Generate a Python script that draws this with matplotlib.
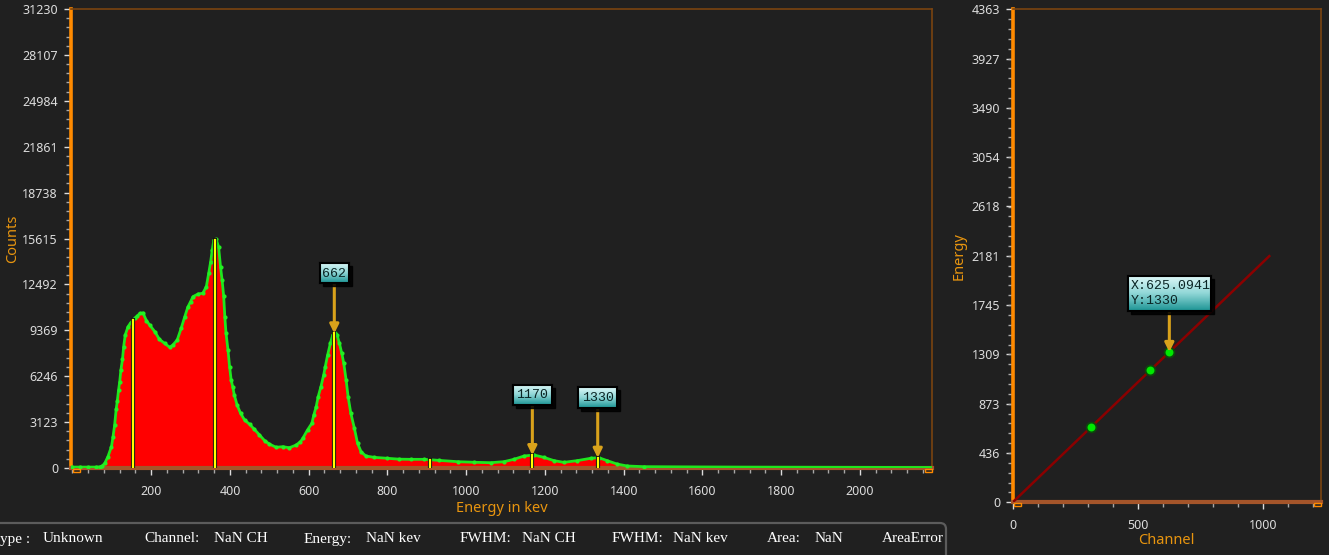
import numpy as np
import matplotlib
matplotlib.use("Agg")
import matplotlib.pyplot as plt
from matplotlib.patches import Rectangle, FancyBboxPatch
from matplotlib.transforms import IdentityTransform
from matplotlib.ticker import FixedLocator, MultipleLocator
from matplotlib.colors import LinearSegmentedColormap
import matplotlib.patheffects as pe

# ---- spectrum (energy in keV, counts) ----
ENERGY = [0, 20, 40, 60, 70, 76, 82, 90, 99, 103,
          107, 111, 114, 117, 120, 123, 127, 130, 134, 141,
          148, 158, 165, 171, 179, 188, 196, 209, 221, 234,
          247, 255, 266, 276, 285, 293, 300, 306, 319, 331,
          340, 346, 351, 355, 359, 365, 371, 376, 380, 384,
          387, 390, 395, 399, 403, 407, 411, 418, 427, 437,
          450, 462, 475, 488, 500, 517, 534, 551, 568, 579,
          585, 597, 608, 613, 619, 624, 631, 638, 642, 648,
          655, 661, 667, 672, 678, 684, 689, 695, 700, 707,
          716, 724, 733, 745, 766, 800, 830, 860, 893, 930,
          978, 1020, 1062, 1096, 1121, 1147, 1172, 1197, 1223, 1248,
          1282, 1316, 1337, 1358, 1383, 1409, 1451, 1518, 1600, 1700,
          1800, 1900, 2000, 2100, 2180]
COUNTS = [60, 60, 60, 60, 80, 150, 320, 770, 1450, 2130,
          2900, 4000, 4580, 5300, 5870, 6670, 7390, 8250, 9050, 9610,
          9890, 10180, 10350, 10520, 10550, 10020, 9730, 9280, 8750, 8480,
          8210, 8370, 8710, 9500, 10280, 10950, 11320, 11660, 11840, 11890,
          12340, 13250, 14040, 14830, 15510, 15560, 15060, 13700, 12790, 11700,
          10250, 9160, 8030, 6890, 5990, 5530, 4970, 4290, 3720, 3270,
          2970, 2630, 2250, 1860, 1630, 1410, 1450, 1380, 1560, 1790,
          2020, 2590, 3040, 3610, 4170, 4850, 5530, 6330, 6890, 7690,
          8480, 9050, 9210, 9050, 8480, 7800, 7120, 5990, 4850, 3720,
          2700, 1680, 1110, 816, 725, 660, 600, 590, 590, 520,
          430, 390, 360, 430, 590, 816, 885, 725, 500, 385,
          500, 660, 700, 500, 270, 136, 90, 80, 70, 60,
          55, 50, 45, 40, 35]

PEAK_LINES = [155, 361, 665, 908, 1168, 1334]
MARKER_ENERGY = [665, 1168, 1334]
MARKER_TEXT = ["662", "1170", "1330"]

COUNT_TICKS = [i * 3123 for i in range(11)]
X_TICKS = [200, 400, 600, 800, 1000, 1200, 1400, 1600, 1800, 2000]

# ---- calibration ----
CAL_CHANNEL = [311.1, 549.9, 625.0941]
CAL_ENERGY = [662, 1170, 1330]
LINE_CHANNEL = [0, 1024]
ENERGY_TICKS = [0, 436, 873, 1309, 1745, 2181, 2618, 3054, 3490, 3927, 4363]
CHANNEL_TICKS = [0, 500, 1000]

# status bar (the first field is cut at the window edge in the screenshot)
STATUS_TEXT = ["ype :", "Unknown", "Channel:", "NaN CH", "Energy:", "NaN kev",
               "FWHM:", "NaN CH", "FWHM:", "NaN kev", "Area:", "NaN", "AreaError"]
STATUS_X = [0.5, 42.5, 144.5, 213.7, 303.6, 366, 459.6, 522, 612, 672.7, 766.8, 814.8, 881.6]

W, H = 1329, 555
BG = "#202020"
ORANGE = "#E8950F"
TICKC = "#DCDCDC"
plt.rcParams["font.family"] = ["Noto Sans", "DejaVu Sans"]

fig = plt.figure(figsize=(W / 100, H / 100), dpi=100, facecolor=BG)


def px_axes(x0, y0, x1, y1, **kw):
    # image pixel box (y downwards) -> figure axes
    return fig.add_axes([x0 / W, 1 - y1 / H, (x1 - x0) / W, (y1 - y0) / H], **kw)


def style(ax):
    ax.set_facecolor(BG)
    ax.spines["left"].set_color("#FF8A00")
    ax.spines["left"].set_linewidth(2.6)
    ax.spines["bottom"].set_color("#A5552A")
    ax.spines["bottom"].set_linewidth(3.0)
    for s in ("top", "right"):
        ax.spines[s].set_color("#7A4410")
        ax.spines[s].set_linewidth(1.2)
    ax.tick_params(which="major", color=TICKC, labelcolor=TICKC, length=5, width=1,
                   labelsize=9, direction="out")
    ax.tick_params(which="minor", color="#A8A8A8", length=3.5, width=1, direction="out")
    ax.tick_params(axis="x", which="major", pad=7)
    ax.tick_params(axis="y", which="major", pad=4)


def handle(x0, y0, w, h):
    fig.add_artist(Rectangle((x0, H - y0 - h), w, h, transform=IdentityTransform(),
                             fill=False, ec="#FF8A00", lw=1, zorder=4))


def tag(ax, xy, text, w, h, gap, ha="center"):
    dx, dy = ax.transData.transform(xy)
    bx, by = dx - w / 2, dy + gap
    ax.annotate("", xy=xy, xytext=(0, gap + 1), textcoords="offset pixels",
                arrowprops=dict(arrowstyle="-|>", color="#D9A21B", lw=2.2,
                                mutation_scale=13, shrinkA=0, shrinkB=0), zorder=6)
    fig.add_artist(Rectangle((bx + 3, by - 3), w, h, transform=IdentityTransform(),
                             color="black", alpha=0.85, zorder=5))
    iax = fig.add_axes([bx / W, by / H, w / W, h / H], zorder=6)
    cmap = LinearSegmentedColormap.from_list("tag", ["#DDF8F8", "#8FD6D6", "#1C9494"])
    iax.imshow(np.linspace(0, 1, 64).reshape(-1, 1), aspect="auto", cmap=cmap,
               extent=(0, 1, 0, 1), origin="upper")
    iax.set_xticks([])
    iax.set_yticks([])
    for s in iax.spines.values():
        s.set_color("black")
        s.set_linewidth(1.5)
    if ha == "center":
        iax.text(0.5, 0.48, text, ha="center", va="center", fontsize=9.5,
                 family="Liberation Mono", color="#0A2424", transform=iax.transAxes)
    else:
        iax.text(0.03, 0.5, text, ha="left", va="center", fontsize=9.5, linespacing=1.25,
                 family="Liberation Mono", color="#0A2424", transform=iax.transAxes)


# ---------------- spectrum ----------------
ax = px_axes(70.5, 9, 932, 468)
style(ax)
ax.set_xlim(-5, 2183)
ax.set_ylim(0, 31230)
e = np.array(ENERGY)
c = np.array(COUNTS)
ax.fill_between(e, c, 0, color="#FF0000", lw=0, zorder=2)
ax.plot(e, c, color="#1EE61E", lw=2.0, zorder=3)
ax.plot(e[e < 1460], c[e < 1460], "o", color="#22F022", ms=3.0, mew=0, zorder=3)
for pk in PEAK_LINES:
    top = np.interp(pk, e, c)
    ax.plot([pk, pk], [0, top], color="#FFFF00", lw=1.6, zorder=4,
            path_effects=[pe.Stroke(linewidth=3.0, foreground="#101010"), pe.Normal()])
ax.xaxis.set_major_locator(FixedLocator(X_TICKS))
ax.xaxis.set_minor_locator(MultipleLocator(40))
ax.yaxis.set_major_locator(FixedLocator(COUNT_TICKS))
ax.set_yticklabels([str(t) for t in COUNT_TICKS])
ax.yaxis.set_minor_locator(MultipleLocator(3123 / 5))
fig.text(13 / W, 1 - 238.5 / H, "Counts", rotation=90, ha="center", va="center",
         color=ORANGE, fontsize=10.5)
fig.text(502 / W, 1 - 508 / H, "Energy in kev", ha="center", va="center",
         color=ORANGE, fontsize=10.5)
handle(72.5, 468.5, 7, 3)
handle(925, 468.5, 7, 3)

for en, txt in zip(MARKER_ENERGY, MARKER_TEXT):
    tag(ax, (en, np.interp(en, e, c)), txt, 9.5 * len(txt) + 0.5, 20.5, 50)

# ---------------- calibration ----------------
ax2 = px_axes(1012.7, 9.3, 1320.6, 502.3)
style(ax2)
ax2.set_xlim(0, 1228.8)
ax2.set_ylim(0, 4363)
slope = CAL_ENERGY[-1] / CAL_CHANNEL[-1]
lc = np.array(LINE_CHANNEL, dtype=float)
ax2.plot(lc, slope * lc, color="#8B0000", lw=1.8, zorder=3)
ax2.plot(CAL_CHANNEL, CAL_ENERGY, "o", mfc="#00E800", mec="#0A4A0A", mew=1.3, ms=7, zorder=4)
ax2.xaxis.set_major_locator(FixedLocator(CHANNEL_TICKS))
ax2.xaxis.set_minor_locator(MultipleLocator(100))
ax2.yaxis.set_major_locator(FixedLocator(ENERGY_TICKS))
ax2.yaxis.set_minor_locator(MultipleLocator(4363 / 50))
fig.text(959 / W, 1 - 255.5 / H, "Energy", rotation=90, ha="center", va="center",
         color=ORANGE, fontsize=10.5)
fig.text(1166.5 / W, 1 - 541 / H, "Channel", ha="center", va="center",
         color=ORANGE, fontsize=10.5)
handle(1013.5, 502.5, 7, 3)
handle(1313.5, 502.5, 7, 3)
tag(ax2, (CAL_CHANNEL[-1], CAL_ENERGY[-1]), "X:%s\nY:%d" % (CAL_CHANNEL[-1], CAL_ENERGY[-1]),
    83, 35, 41, ha="left")

# ---------------- status bar ----------------
fig.add_artist(FancyBboxPatch((-30, -30), 976, H - 523 + 30,
                              boxstyle="round,pad=0,rounding_size=6",
                              transform=IdentityTransform(), fc="none",
                              ec="#5C5C5C", lw=1.6, zorder=1))
for txt, x in zip(STATUS_TEXT, STATUS_X):
    fig.text(x / W, 1 - 539 / H, txt, ha="left", va="center",
             color="white", fontsize=11, family="Liberation Serif")

fig.savefig("out.png", dpi=100, facecolor=BG)
